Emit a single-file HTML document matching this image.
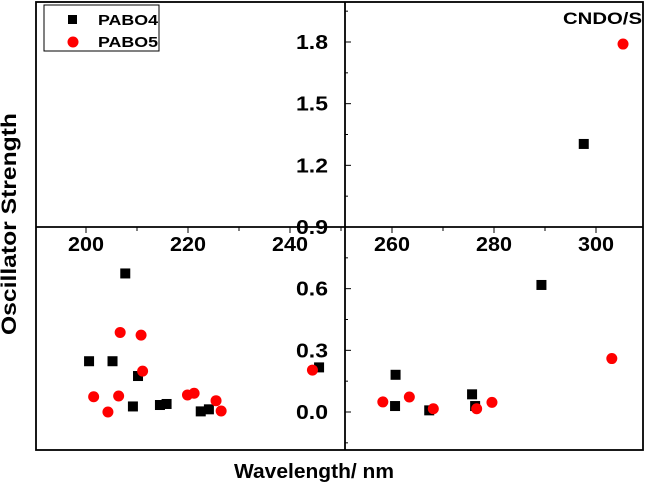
<!DOCTYPE html>
<html><head><meta charset="utf-8"><style>
body{margin:0;background:#fff}
svg text{font-family:"Liberation Sans",Arial,sans-serif;font-weight:bold}
</style></head><body>
<svg id="chart" width="646" height="491" viewBox="0 0 646 491">
<rect x="36" y="2" width="607" height="448" fill="none" stroke="#000" stroke-width="1.8"/>
<g id="axes"></g>
<g id="marks"></g>
<text x="16" y="224" font-size="21" text-anchor="middle" textLength="222" lengthAdjust="spacingAndGlyphs" transform="rotate(-90 16 224)">Oscillator Strength</text>
<text x="314" y="478" font-size="20" text-anchor="middle" textLength="160" lengthAdjust="spacingAndGlyphs">Wavelength/ nm</text>
<text x="642" y="24" font-size="17" text-anchor="end" textLength="79" lengthAdjust="spacingAndGlyphs">CNDO/S</text>
<g>
<rect x="44" y="5" width="115" height="46" fill="#fff" stroke="#000" stroke-width="1"/>
<rect x="68" y="15" width="9" height="9" fill="#000"/>
<text x="98" y="25" font-size="15" textLength="60" lengthAdjust="spacingAndGlyphs">PABO4</text>
<circle cx="73" cy="42" r="5.5" fill="#f00"/>
<text x="98" y="47" font-size="15" textLength="60" lengthAdjust="spacingAndGlyphs">PABO5</text>
</g>
</svg>
<script>
const xTicks=[200,220,240,260,280,300];
const yTicks=[0.0,0.3,0.6,0.9,1.2,1.5,1.8];
const yTickLabels=["0.0","0.3","0.6","0.9","1.2","1.5","1.8"];
const pabo4X=[207.7,200.6,205.2,210.2,209.2,214.5,215.8,222.5,224.1,245.7,260.7,260.6,267.3,275.7,276.3,289.3,297.6];
const pabo4Y=[0.674,0.247,0.247,0.175,0.027,0.034,0.039,0.003,0.013,0.217,0.181,0.029,0.008,0.086,0.029,0.618,1.304];
const pabo5X=[206.7,210.8,211.1,201.5,206.4,204.3,219.9,221.2,225.5,226.5,244.4,258.2,263.4,268.1,276.6,279.6,303.1,305.3];
const pabo5Y=[0.387,0.374,0.199,0.074,0.078,0.0,0.083,0.091,0.055,0.005,0.204,0.049,0.073,0.016,0.016,0.047,0.260,1.79];

const sx=v=>86+(v-200)*5.1;
const sy=v=>412-v*(185/0.9);
const NS="http://www.w3.org/2000/svg";
const axes=document.getElementById('axes'),marks=document.getElementById('marks');
function mk(tag,attrs,parent){const e=document.createElementNS(NS,tag);for(const k in attrs)e.setAttribute(k,attrs[k]);parent.appendChild(e);return e;}
const axY=sy(0.9), axX=345;
let l=mk('line',{x1:36,x2:643,y1:axY,y2:axY,stroke:'#000','stroke-width':1.8},axes);


l=mk('line',{x1:axX,x2:axX,y1:2,y2:450,stroke:'#000','stroke-width':1.8},axes);


for(let v=190;v<=310;v+=10){const x=sx(v);if(x<37||x>642)continue;const major=v%20===0;
 const t=mk('line',{x1:x,x2:x,y1:axY,y2:axY+(major?6:4),stroke:'#000','stroke-width':1},axes);
 
 }
xTicks.forEach(v=>{const t=mk('text',{x:sx(v),y:axY+24,'font-size':20,'text-anchor':'middle',textLength:36,lengthAdjust:'spacingAndGlyphs'},axes);t.textContent=v;
 
 });
for(let i=-1;i<=13;i++){const v=i*0.15;const y=sy(v);if(y<3||y>449)continue;const major=i%2===0;
 const t=mk('line',{x1:axX,x2:axX+(major?6:3),y1:y,y2:y,stroke:'#000','stroke-width':1},axes);
 
 }
yTicks.forEach((v,i)=>{const t=mk('text',{x:axX-17,y:sy(v)+7,'font-size':20,'text-anchor':'end',textLength:32,lengthAdjust:'spacingAndGlyphs'},axes);t.textContent=yTickLabels[i];
 
 });
pabo4X.forEach((v,i)=>{const r=mk('rect',{x:sx(v)-5,y:sy(pabo4Y[i])-5,width:10,height:10,fill:'#000'},marks);
 
 });
pabo5X.forEach((v,i)=>{const c=mk('circle',{cx:sx(v),cy:sy(pabo5Y[i]),r:5.5,fill:'#f00'},marks);
 
 });
</script>
</body></html>
